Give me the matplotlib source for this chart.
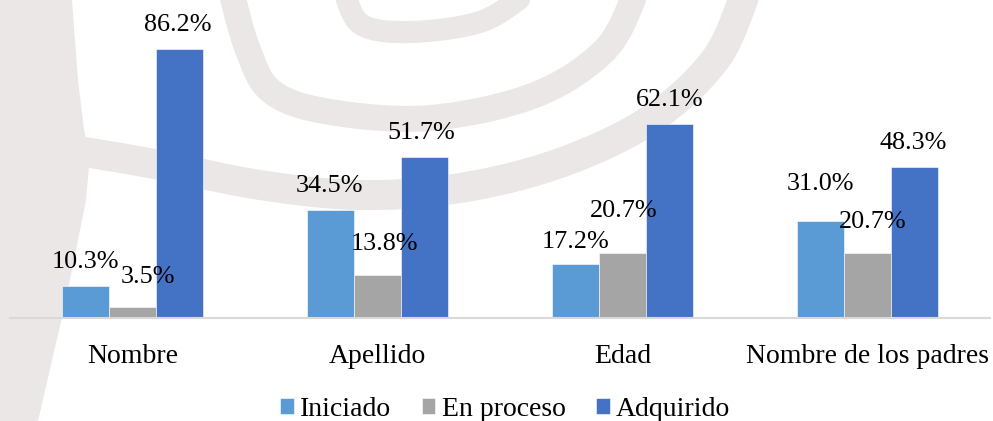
import matplotlib
matplotlib.use("Agg")
import matplotlib.pyplot as plt
import numpy as np
from matplotlib.patches import Polygon

# ---- data ----
categories = ["Nombre", "Apellido", "Edad", "Nombre de los padres"]
series_names = ["Iniciado", "En proceso", "Adquirido"]
iniciado = [10.3, 34.5, 17.2, 31.0]
en_proceso = [3.5, 13.8, 20.7, 20.7]
adquirido = [86.2, 51.7, 62.1, 48.3]

# ---- style ----
colors = ["#5B9BD5", "#A5A5A5", "#4472C4"]
# label offsets (pixels) relative to bar top-centre
offsets = [
    [(0, 24), (-1, 24), (0, 22), (0, 37)],
    [(15, 30), (7, 31), (1, 42), (5, 31)],
    [(-2, 24), (-3, 24), (0, 24), (-1, 24)],
]

plt.rcParams['font.family'] = ['Liberation Serif', 'DejaVu Serif']

W, H = 993, 421
fig = plt.figure(figsize=(W / 100, H / 100), dpi=100)


def smooth(pts, n=12):
    p = np.array(pts, dtype=float)
    p = np.vstack([p[0], p, p[-1]])
    out = []
    for i in range(1, len(p) - 2):
        p0, p1, p2, p3 = p[i - 1], p[i], p[i + 1], p[i + 2]
        for t in np.linspace(0, 1, n, endpoint=False):
            t2, t3 = t * t, t * t * t
            out.append(0.5 * ((2 * p1) + (-p0 + p2) * t +
                              (2 * p0 - 5 * p1 + 4 * p2 - p3) * t2 +
                              (-p0 + 3 * p1 - 3 * p2 + p3) * t3))
    out.append(p[-2])
    return np.array(out)


# faint watermark background (decorative)
bg = fig.add_axes([0, 0, 1, 1], zorder=-5)
bg.set_xlim(0, W)
bg.set_ylim(H, 0)
bg.axis("off")
wm = "#ECE7E7"
bg.add_patch(Polygon([(0, 0), (72, 0), (78, 80), (84, 130), (90, 155), (86, 200),
                      (66, 300), (38, 421), (0, 421)], closed=True, color=wm, lw=0))
bands = [
    ([(745, -5), (715, 60), (650, 120), (560, 163), (460, 188), (360, 195),
      (260, 185), (160, 165), (85, 152)], 30),
    ([(635, -5), (605, 50), (535, 95), (430, 118), (330, 112), (272, 92),
      (248, 50), (232, -5)], 26),
    ([(525, -5), (480, 22), (410, 32), (362, 25), (345, -5)], 22),
]
for pts, w in bands:
    s = smooth(pts)
    bg.plot(s[:, 0], s[:, 1], color=wm, lw=w * 0.72, solid_capstyle="round",
            solid_joinstyle="round")

ax = fig.add_axes([10 / W, (H - 318) / H, 980 / W, 318 / H])
ax.patch.set_alpha(0)

x = np.arange(len(categories))
bw = 0.192
all_series = [iniciado, en_proceso, adquirido]
for i, (vals, name, col) in enumerate(zip(all_series, series_names, colors)):
    pos = x + (i - 1) * bw
    ax.bar(pos, vals, width=bw, color=col, label=name,
           edgecolor="white", linewidth=0.4, zorder=2)
    for j, (bx, v) in enumerate(zip(pos, vals)):
        dx, dy = offsets[i][j]
        ax.annotate(f"{v:.1f}%", xy=(bx, v), xytext=(dx, dy),
                    textcoords="offset pixels", ha="center", va="center",
                    fontsize=18.8, color="black", zorder=3)

ax.set_xlim(-0.5, 3.5)
ax.set_ylim(0, 318 / 3.12)
for s in ["top", "right", "left"]:
    ax.spines[s].set_visible(False)
ax.spines["bottom"].set_color("#D9D9D9")
ax.spines["bottom"].set_linewidth(1.5)
ax.set_yticks([])
ax.set_xticks(x)
ax.set_xticklabels(categories, fontsize=20)
ax.tick_params(axis="x", length=0, pad=19)

handles, labels = ax.get_legend_handles_labels()
fig.legend(handles, labels, loc="center", bbox_to_anchor=(505 / W, (H - 409) / H),
           ncol=3, frameon=False, fontsize=20, handlelength=0.5, handleheight=0.5,
           handletextpad=0.22, columnspacing=1.1)

fig.savefig("out.png", dpi=100)
